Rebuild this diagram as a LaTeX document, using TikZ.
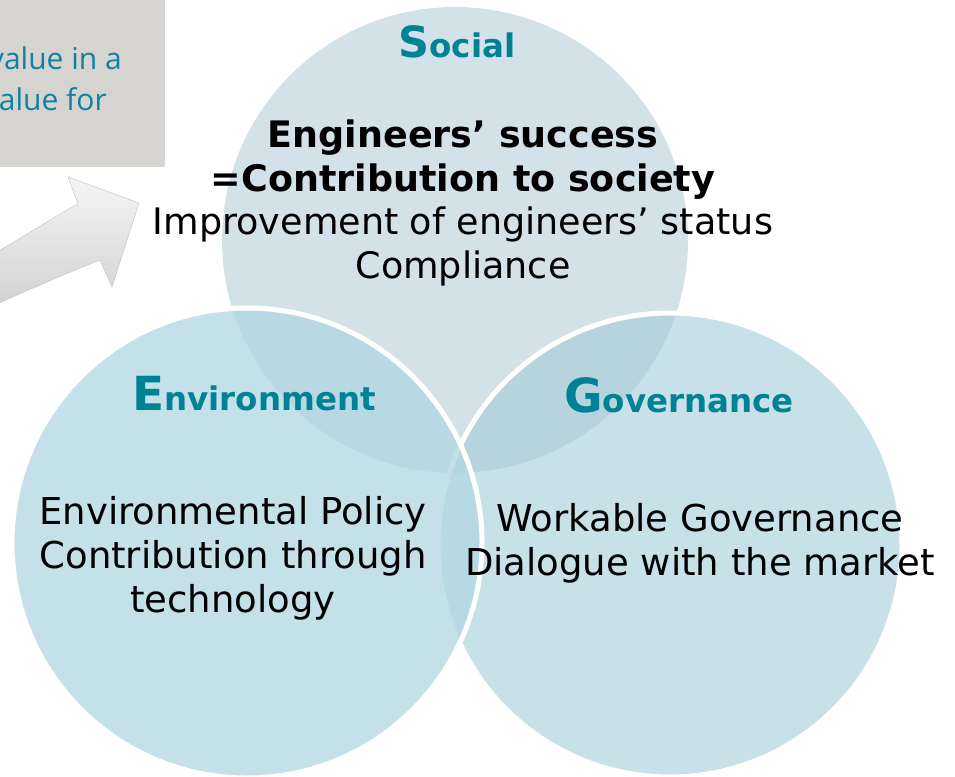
\documentclass[tikz,border=0pt]{standalone}
\usepackage{fontspec}
\setmainfont{DejaVu Sans}
\newfontfamily\boxfont{Open Sans}
\definecolor{socfill}{RGB}{211,226,232}
\definecolor{envfill}{RGB}{176,215,226}
\definecolor{govfill}{RGB}{167,205,217}
\definecolor{headteal}{RGB}{0,130,150}
\definecolor{boxgray}{RGB}{213,212,209}
\definecolor{boxteal}{RGB}{16,130,160}
\tikzset{
  venn/.style={circle, inner sep=0pt, outer sep=0pt},
  ring/.style={draw=white, line width=5pt},
  head/.style={inner sep=0pt, anchor=base, text=headteal, font=\bfseries},
  body/.style={inner sep=0pt, align=center, font=\fontsize{37}{44}\selectfont},
  boxtext/.style={inner sep=0pt, anchor=base east, text=boxteal, font=\boxfont\fontsize{30}{36}\selectfont},
}
\newcommand{\HeadWord}[3]{{\fontsize{#1}{#1}\selectfont #2}{\fontsize{32.5}{32.5}\selectfont #3}}
\begin{document}
\begin{tikzpicture}[x=1pt,y=-1pt]
\useasboundingbox (0,0) rectangle (955,776);
\clip (0,0) rectangle (955,776);
% grey box
\fill[boxgray] (0,0) rectangle (165,167);
\node[boxtext] (bt1) at (122,70) {value in a};
\node[boxtext] (bt2) at (107,110) {alue for};
% block arrow
\path[top color=gray!8, bottom color=gray!35, draw=gray!50, line width=0.4pt]
  (-5,253) .. controls (30,233) and (55,216) .. (78,204)
  -- (68,177) -- (139,203) -- (112,287) -- (100,260)
  .. controls (65,274) and (30,289) .. (-5,305) -- cycle;
% circles
\node[venn, fill=socfill, minimum size=466pt] (soc) at (455,240) {};
\node[venn, ring, fill=govfill, fill opacity=0.62, minimum size=464pt] (gov) at (670,545) {};
\node[venn, ring, fill=envfill, fill opacity=0.75, minimum size=470pt] (env) at (247,543) {};
% headings
\node[head] (soch) at (457,57) {\HeadWord{43}{S}{ocial}};
\node[head] (envh) at (254,410) {\HeadWord{47}{E}{nvironment}};
\node[head] (govh) at (679,412) {\HeadWord{47}{G}{overnance}};
% body texts
\node[body, font=\fontsize{36.5}{43.5}\selectfont] (soct) at (463,203) {\textbf{Engineers’ success}\\\textbf{=Contribution to society}\\Improvement of engineers’ status\\Compliance};
\node[body] (envt) at (233,558) {Environmental Policy\\Contribution through\\technology};
\node[body] (govt) at (700,543) {Workable Governance\\Dialogue with the market};
\end{tikzpicture}
\end{document}
